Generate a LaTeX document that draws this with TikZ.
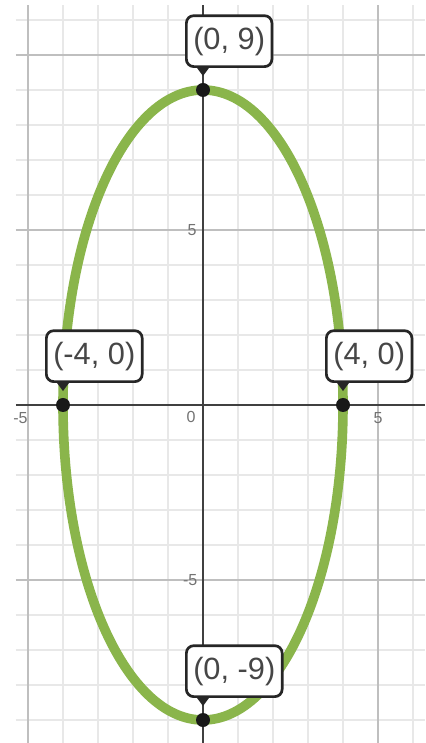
\documentclass[tikz,border=0pt]{standalone}
\usepackage{fontspec}
\setmainfont{Liberation Sans}
\definecolor{curvegreen}{RGB}{138,181,75}
\definecolor{textgray}{RGB}{70,70,70}
\begin{document}
\begin{tikzpicture}[scale=0.5,
  minorgrid/.style={draw=black!9, line width=0.5pt},
  majorgrid/.style={draw=black!25, line width=0.6pt},
  axisline/.style={draw=black!75, line width=1.1pt},
  ticklabel/.style={text=black!55, font=\fontsize{6.5}{7}\selectfont, inner sep=0pt},
  curve/.style={draw=curvegreen, line width=3.9pt},
  dot/.style={circle, fill=black!90, inner sep=0pt, minimum size=0.2cm},
  ptlabel/.style={draw=black!85, line width=1.1pt, fill=white, rounded corners=3pt, text=textgray, font=\fontsize{12.5}{14}\selectfont, inner xsep=2.8pt, inner ysep=0pt, minimum height=20.7pt, anchor=south west},
  pointer/.style={fill=black!85}
]
\useasboundingbox (-5.8,-9.657) rectangle (6.343,11.571);
\fill[white] (-5.8,-9.657) rectangle (6.343,11.571);
% grid
\foreach \x in {-5,...,6} \draw[minorgrid] (\x,-9.657) -- (\x,11.43);
\foreach \y in {-9,...,11} \draw[minorgrid] (-5.343,\y) -- (6.343,\y);
\foreach \x in {-5,5} \draw[majorgrid] (\x,-9.657) -- (\x,11.43);
\foreach \y in {-5,5,10} \draw[majorgrid] (-5.343,\y) -- (6.343,\y);
% axes
\draw[axisline] (-5.343,0) -- (6.343,0);
\draw[axisline] (0,-9.657) -- (0,11.43);
% tick labels
\node[ticklabel, anchor=east] (ty5) at (-0.17,5) {5};
\node[ticklabel, anchor=east] (tym5) at (-0.15,-5) {-5};
\node[ticklabel, anchor=north east] (t0) at (-0.2,-0.17) {0};
\node[ticklabel, anchor=north] (tx5) at (5,-0.2) {5};
\node[ticklabel, anchor=north east] (txm5) at (-5,-0.2) {-5};
% ellipse
\draw[curve] (0,0) ellipse [x radius=4, y radius=9];
% points
\node[dot] (ptop) at (0,9) {};
\node[dot] (pbot) at (0,-9) {};
\node[dot] (pleft) at (-4,0) {};
\node[dot] (pright) at (4,0) {};
% labels
\node[ptlabel] (ltop) at (-0.514,9.629) {(0, 9)};
\node[ptlabel] (lbot) at (-0.514,-8.371) {(0, -9)};
\node[ptlabel] (lleft) at (-4.514,0.629) {(-4, 0)};
\node[ptlabel] (lright) at (3.486,0.629) {(4, 0)};
% pointers
\fill[pointer] (ltop.south west -| ptop) ++(-0.17,0) -- ++(0.34,0) -- ++(-0.17,-0.23) -- cycle;
\fill[pointer] (lbot.south west -| pbot) ++(-0.17,0) -- ++(0.34,0) -- ++(-0.17,-0.23) -- cycle;
\fill[pointer] (lleft.south west -| pleft) ++(-0.17,0) -- ++(0.34,0) -- ++(-0.17,-0.23) -- cycle;
\fill[pointer] (lright.south west -| pright) ++(-0.17,0) -- ++(0.34,0) -- ++(-0.17,-0.23) -- cycle;
\end{tikzpicture}
\end{document}
